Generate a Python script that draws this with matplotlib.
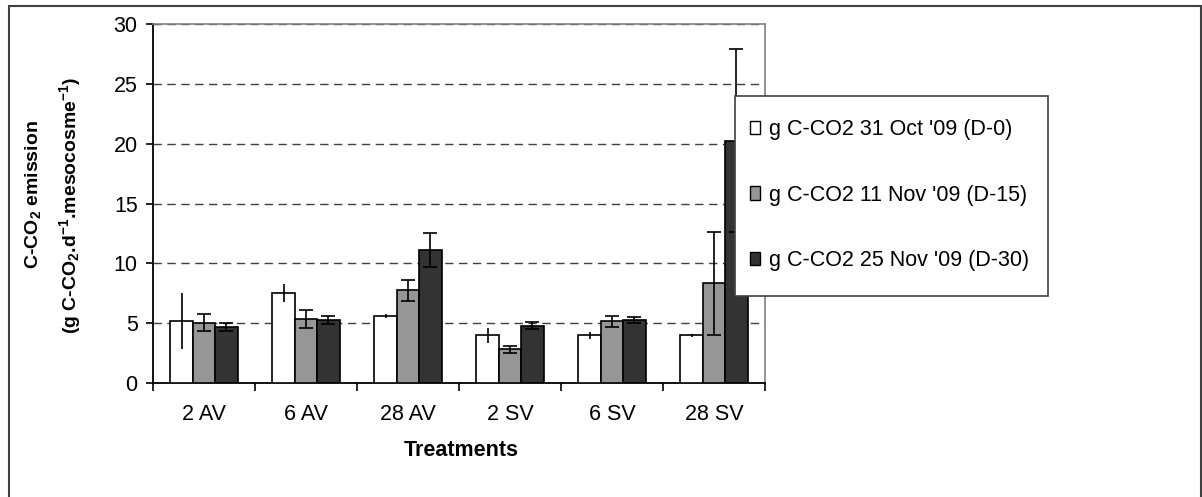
import matplotlib
matplotlib.use('Agg')
import matplotlib.pyplot as plt
import numpy as np
from matplotlib.patches import Rectangle, Patch

plt.rcParams['font.family'] = ['Liberation Sans', 'DejaVu Sans']
plt.rcParams['mathtext.fontset'] = 'custom'
plt.rcParams['mathtext.rm'] = 'Liberation Sans'
plt.rcParams['mathtext.bf'] = 'Liberation Sans:bold'
plt.rcParams['mathtext.default'] = 'regular'

treatments = ["2 AV", "6 AV", "28 AV", "2 SV", "6 SV", "28 SV"]
series_names = ["g C-CO2 31 Oct '09 (D-0)", "g C-CO2 11 Nov '09 (D-15)", "g C-CO2 25 Nov '09 (D-30)"]
d0 = [5.15, 7.5, 5.6, 3.97, 3.97, 3.97]
d0_err = [2.35, 0.75, 0.2, 0.65, 0.3, 0.15]
d15 = [5.03, 5.37, 7.74, 2.8, 5.17, 8.33]
d15_err = [0.7, 0.77, 0.9, 0.3, 0.45, 4.3]
d30 = [4.7, 5.26, 11.1, 4.78, 5.28, 20.23]
d30_err = [0.35, 0.35, 1.4, 0.3, 0.25, 7.65]

colors = ['white', '#969696', '#333333']
caps = [0, 5, 5]

W, H = 1202, 497
fig = plt.figure(figsize=(W / 100, H / 100), dpi=100)
ax = fig.add_axes([153 / W, 1 - 383 / H, (765 - 153) / W, (383 - 24) / H])

x = np.arange(len(treatments)) + 0.5
bw = 0.22
vals = [d0, d15, d30]
errs = [d0_err, d15_err, d30_err]
for i in range(3):
    ax.bar(x + (i - 1) * bw, vals[i], bw, color=colors[i], edgecolor='black',
           linewidth=1.2, zorder=3)
    ax.errorbar(x + (i - 1) * bw, vals[i], yerr=errs[i], fmt='none', ecolor='black',
                elinewidth=1.2, capsize=caps[i], capthick=1.2, zorder=4)

ax.set_xlim(0, 6)
ax.set_ylim(0, 30)
ax.set_yticks(range(0, 31, 5))
ax.yaxis.grid(True, linestyle=(0, (6, 4)), color='#404040', linewidth=1, zorder=1)
ax.set_xticks(x)
ax.set_xticklabels(treatments)
ax.set_xticks(np.arange(0, 7), minor=True)
ax.tick_params(axis='x', which='major', length=0, labelsize=15.5, pad=15)
ax.tick_params(axis='x', which='minor', length=6, width=1.2, direction='out')
ax.tick_params(axis='y', length=5, width=1.2, labelsize=15.5, pad=6)

for s in ['left', 'bottom']:
    ax.spines[s].set_color('black')
    ax.spines[s].set_linewidth(1.3)
for s in ['top', 'right']:
    ax.spines[s].set_color('#808080')
    ax.spines[s].set_linewidth(1.2)

fig.text(461 / W, 1 - 451 / H, 'Treatments', fontsize=15.5, fontweight='bold',
         ha='center', va='center')
fig.text(33 / W, 1 - 195 / H, r'C-CO$_2$ emission', fontsize=14, fontweight='bold',
         rotation=90, ha='center', va='center')
fig.text(70 / W, 1 - 205 / H, r'(g C-CO$_2$.d$^{-1}$.mesocosme$^{-1}$)', fontsize=14,
         fontweight='bold', rotation=90, ha='center', va='center')

# legend box (white, drawn over the plot like in the original)
fig.patches.append(Rectangle((735 / W, 1 - 296 / H), (1048 - 735) / W, (296 - 96) / H,
                             transform=fig.transFigure, facecolor='white',
                             edgecolor='#404040', linewidth=1.2, zorder=4))
handles = [Patch(facecolor=colors[i], edgecolor='black', linewidth=1) for i in range(3)]
leg = fig.legend(handles, series_names, loc='upper left',
                 bbox_to_anchor=(750 / W, 1 - 119 / H), fontsize=15.5, frameon=False,
                 handlelength=0.45, handleheight=0.6, handletextpad=0.45,
                 labelspacing=2.07, borderpad=0, borderaxespad=0)
leg.set_zorder(5)

fig.patches.append(Rectangle((8.5 / W, -0.1), (1200.5 - 8.5) / W, 1.1 - 5.5 / H,
                             transform=fig.transFigure, fill=False,
                             edgecolor='#404040', linewidth=1.5))

fig.savefig('out.png', dpi=100)
